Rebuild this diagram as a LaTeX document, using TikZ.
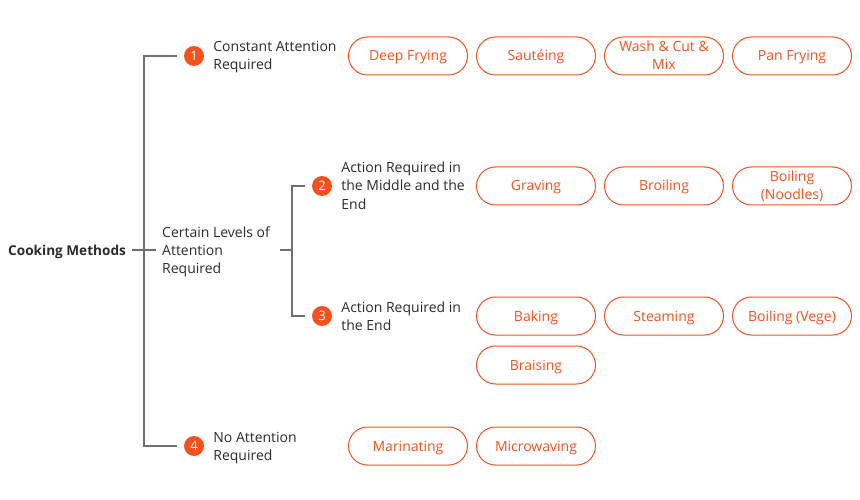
\documentclass[tikz,border=0pt]{standalone}
\usepackage{fontspec}
\setmainfont{Open Sans}
\usetikzlibrary{positioning,calc}
\definecolor{cookorange}{HTML}{F4511E}
\definecolor{linegray}{HTML}{707070}
\definecolor{textgray}{HTML}{2B2B2B}

\begin{document}
\begin{tikzpicture}[x=1pt,y=-1pt,node distance=8pt,font=\fontsize{14}{18}\selectfont,text=textgray]
\tikzstyle{method}=[draw=cookorange,text=cookorange,line width=1pt,rounded corners=19pt,minimum width=119pt,minimum height=38pt,align=center,inner sep=2pt,text height=10pt,text depth=0pt]
  \tikzstyle{badge}=[circle,fill=cookorange,text=white,minimum size=20pt,inner sep=0pt,font=\fontsize{13}{13}\selectfont]
  \tikzstyle{group}=[anchor=west,align=left,inner sep=0pt,text height=10pt,text depth=0pt]
  \tikzstyle{branch}=[draw=linegray,line width=1.5pt]
\useasboundingbox (0,0) rectangle (860,500);
%
%
\node[group,font=\bfseries\fontsize{13.6}{18}\selectfont] (root) at (8,250) {Cooking Methods};
  \node[group,text height=46pt] (mid) at (162,250) {Certain Levels of\\Attention\\Required};
  \coordinate (trunk) at (144,0);
  \coordinate (fork) at (292,0);
  \node[badge] (n1) at (194,56) {1};
  \node[group,text height=28pt,right=9pt of n1] (l1) {Constant Attention\\Required};
  \node[badge] (n2) at (322,186) {2};
  \node[group,text height=46pt,right=9pt of n2] (l2) {Action Required in\\the Middle and the\\End};
  \node[badge] (n3) at (322,316) {3};
  \node[group,text height=28pt,right=9pt of n3] (l3) {Action Required in\\the End};
  \node[badge] (n4) at (194,446) {4};
  \node[group,text height=28pt,right=9pt of n4] (l4) {No Attention\\Required};
%
  \node[method] (p11) at (408,56) {Deep Frying};
  \node[method,right=of p11] (p12) {Sautéing};
  \node[method,text height=28pt,right=of p12] (p13) {Wash \& Cut \&\\Mix};
  \node[method,right=of p13] (p14) {Pan Frying};
  \node[method] (p21) at (536,186) {Graving};
  \node[method,right=of p21] (p22) {Broiling};
  \node[method,text height=28pt,right=of p22] (p23) {Boiling\\(Noodles)};
  \node[method] (p31) at (536,316) {Baking};
  \node[method,right=of p31] (p32) {Steaming};
  \node[method,right=of p32] (p33) {Boiling (Vege)};
  \node[method,below=10pt of p31] (p34) {Braising};
  \node[method] (p41) at (408,446) {Marinating};
  \node[method,right=of p41] (p42) {Microwaving};

  \draw[branch,shorten <=6pt] (root.east) -- (root.east -| trunk);
  \draw[branch,shorten <=7pt,shorten >=7pt] (n1.west) -- (n1.west -| trunk) -- (n4.west -| trunk) -- (n4.west);
  \draw[branch,shorten >=6pt] (trunk |- mid.west) -- (mid.west);
  \draw[branch,shorten <=10pt] (mid.east) -- (mid.east -| fork);
  \draw[branch,shorten <=7pt,shorten >=7pt] (n2.west) -- (n2.west -| fork) -- (n3.west -| fork) -- (n3.west);
\end{tikzpicture}
\end{document}
